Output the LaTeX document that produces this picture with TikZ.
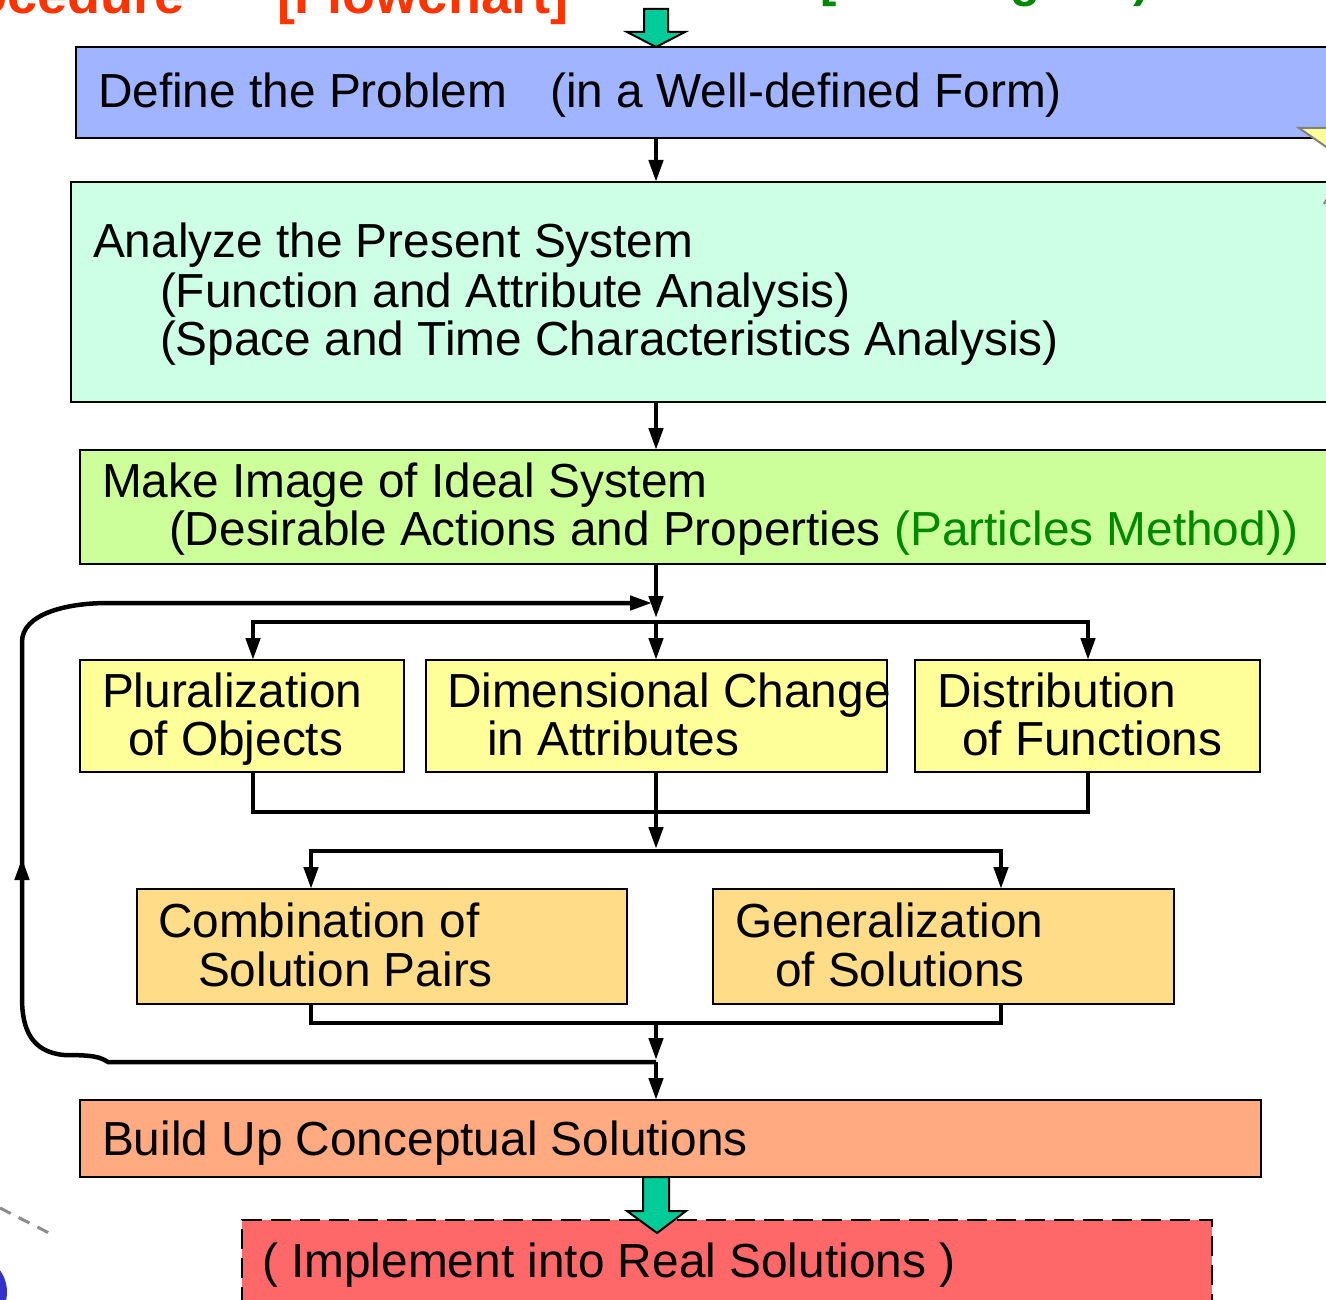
\documentclass[tikz,border=0pt]{standalone}
\usepackage{fontspec}
\setmainfont{Liberation Sans}
\usetikzlibrary{arrows.meta}

\definecolor{defblue}{HTML}{A0B4FF}
\definecolor{anamint}{HTML}{CCFFE6}
\definecolor{idealgreen}{HTML}{CCFF99}
\definecolor{methyellow}{HTML}{FFFF99}
\definecolor{combgold}{HTML}{FFDD88}
\definecolor{buildsalmon}{HTML}{FFAA80}
\definecolor{implred}{HTML}{FF6868}
\definecolor{blockgreen}{HTML}{00CC99}
\definecolor{partgreen}{HTML}{008800}
\definecolor{titlered}{HTML}{FF3300}
\definecolor{dotblue}{HTML}{3333CC}

\begin{document}
\begin{tikzpicture}[x=1pt,y=-1pt,
  box/.style={draw=black, line width=2.5pt, inner sep=0pt, outer sep=0pt},
  txt/.style={anchor=base west, inner sep=0pt, outer sep=0pt,
              font=\fontsize{47.8}{48.5}\selectfont},
  headtxt/.style={inner sep=0pt, outer sep=0pt, anchor=base west,
              font=\fontsize{54}{60}\selectfont\bfseries},
  wire/.style={line width=4.5pt},
  flow/.style={line width=4.5pt, -{Triangle[length=22pt,width=14pt]}},
  blockarrow/.style={fill=blockgreen, draw=black, line width=2pt, line join=miter}]

\useasboundingbox (0,0) rectangle (1326,1300);
\clip (0,0) rectangle (1326,1300);

% heading fragments along the top edge
\node[headtxt, anchor=base east, text=titlered] (hproc) at (185,14) {Procedure};
\node[headtxt, text=titlered] (hflow) at (277,14) {[Flowchart]};
\node[headtxt, text=partgreen, font=\fontsize{49}{55}\selectfont\bfseries] (hthink) at (820,-3) {[Thinking Aid)};

% decorations lower left
\draw[gray!90, line width=3pt, dash pattern=on 12pt off 9pt] (0,1208) -- (51,1234);
\fill[dotblue] (-30,1292) circle (37);

% boxes
\node[box, fill=defblue, minimum width=1269pt, minimum height=91pt] (def) at (710.5,92.5) {};
\node[box, fill=anamint, minimum width=1274pt, minimum height=220pt] (ana) at (708,292) {};
\node[box, fill=idealgreen, minimum width=1265pt, minimum height=114pt] (ideal) at (712.5,507) {};
\node[box, fill=methyellow, minimum width=324pt, minimum height=112pt] (plur) at (242,716) {};
\node[box, fill=methyellow, minimum width=461pt, minimum height=112pt] (dim) at (656.5,716) {};
\node[box, fill=methyellow, minimum width=345pt, minimum height=112pt] (dist) at (1087.5,716) {};
\node[box, fill=combgold, minimum width=490pt, minimum height=115pt] (comb) at (382,946.5) {};
\node[box, fill=combgold, minimum width=461pt, minimum height=115pt] (gen) at (943.5,946.5) {};
\node[box, fill=buildsalmon, minimum width=1181pt, minimum height=77pt] (build) at (670.5,1138.5) {};
\node[box, fill=implred, line width=2.5pt, dash pattern=on 20pt off 9pt,
      minimum width=970pt, minimum height=110pt] (impl) at (727,1275) {};

% callout pointer on the right edge, lying over the first box
\draw[draw=gray, fill=methyellow, line width=2pt] (1299,128) -- (1345,128) -- (1345,160) -- cycle;
\draw[gray, line width=2pt] (1324,204) -- (1330,194);

% texts
\node[txt] (tdef) at (98,108) {Define the Problem\hspace{43pt}(in a Well-defined Form)};
\node[txt] (tana1) at (93,258) {Analyze the Present System};
\node[txt] (tana2) at (160,307) {(Function and Attribute Analysis)};
\node[txt] (tana3) at (160,355) {(Space and Time Characteristics Analysis)};
\node[txt] (tid1) at (102,497) {Make Image of Ideal System};
\node[txt] (tid2) at (169,545) {(Desirable Actions and Properties \textcolor{partgreen}{(Particles Method))}};
\node[txt] (tpl1) at (102,707) {Pluralization};
\node[txt] (tpl2) at (128,755) {of Objects};
\node[txt] (tdm1) at (447,707) {Dimensional Change};
\node[txt] (tdm2) at (487,755) {in Attributes};
\node[txt] (tds1) at (937,707) {Distribution};
\node[txt] (tds2) at (962,755) {of Functions};
\node[txt] (tcb1) at (158,937) {Combination of};
\node[txt] (tcb2) at (198,986) {Solution Pairs};
\node[txt] (tgn1) at (735,937) {Generalization};
\node[txt] (tgn2) at (775,986) {of Solutions};
\node[txt] (tbu) at (102,1155) {Build Up Conceptual Solutions};
\node[txt] (tim) at (262,1277) {( Implement into Real Solutions )};

% junction points of the connectors
\coordinate (trunk) at (656,0);
\coordinate (mergeIn) at (656,618);
\coordinate (splitC) at (656,622);
\coordinate (splitL) at (253,622);
\coordinate (splitR) at (1088,622);
\coordinate (gathC) at (656,812);
\coordinate (gathL) at (253,812);
\coordinate (gathR) at (1088,812);
\coordinate (split2In) at (656,849);
\coordinate (split2C) at (656,851);
\coordinate (split2L) at (311,851);
\coordinate (split2R) at (1001,851);
\coordinate (gath2C) at (656,1023);
\coordinate (gath2L) at (311,1023);
\coordinate (gath2R) at (1001,1023);
\coordinate (fbIn) at (656,1060);
\coordinate (fbJoin) at (656,1062);
\coordinate (fbLow) at (108,1062);
\coordinate (fbMid) at (22,858);
\coordinate (fbMid2) at (22,868);
\coordinate (fbTop) at (108,603);
\coordinate (fbEnd) at (652,603);

% main flow
\draw[flow] (def.south -| trunk) -- (ana.north -| trunk);
\draw[flow] (ana.south -| trunk) -- (ideal.north -| trunk);
\draw[flow] (ideal.south -| trunk) -- (mergeIn);
\draw[flow] (splitC) -| (plur.north -| splitL);
\draw[flow] (splitC) -| (dist.north -| splitR);
\draw[flow] (splitC) -- (dim.north -| trunk);
\draw[wire] (plur.south -| gathL) |- (gathC);
\draw[wire] (dist.south -| gathR) |- (gathC);
\draw[flow] (dim.south -| trunk) -- (split2In);
\draw[flow] (split2C) -| (comb.north -| split2L);
\draw[flow] (split2C) -| (gen.north -| split2R);
\draw[wire] (comb.south -| gath2L) |- (gath2C);
\draw[wire] (gen.south -| gath2R) |- (gath2C);
\draw[flow] (gath2C) -- (fbIn);
\draw[flow] (fbJoin) -- (build.north -| trunk);

% feedback loop back to the top of the method stage
\draw[flow] (fbJoin) -- (fbLow) .. controls (100,1057) and (94,1055) .. (64,1055)
            .. controls (32,1052) and (22,1030) .. (22,998) -- (fbMid);
\draw[flow] (fbMid2) -- (22,642) .. controls (22,614) and (66,603) .. (fbTop) -- (fbEnd);

% block arrows in and out
\draw[blockarrow] (644,9) -- (644,32) -- (627,32) -- (656,47) -- (685,32) -- (668,32) -- (668,9) -- cycle;
\draw[blockarrow] (643,1177) -- (643,1211) -- (627,1211) -- (657,1233) -- (686,1211) -- (669,1211) -- (669,1177) -- cycle;

\end{tikzpicture}
\end{document}
